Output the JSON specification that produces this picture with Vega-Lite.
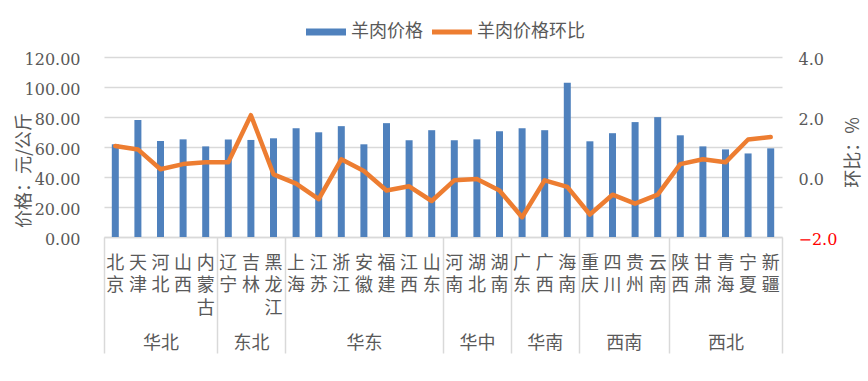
{
  "$schema": "https://vega.github.io/schema/vega-lite/v6.json",
  "width": 678,
  "height": 180,
  "autosize": {"type": "none"},
  "padding": {"left": 104, "top": 57, "right": 86, "bottom": 144},
  "background": "white",
  "config": {"view": {"stroke": null}, "font": "Noto Sans CJK SC"},
  "data": {"values": [
    {"province": "北京", "region": "华北", "price": 61.8, "mom": 1.03},
    {"province": "天津", "region": "华北", "price": 78.0, "mom": 0.92},
    {"province": "河北", "region": "华北", "price": 64.0, "mom": 0.26},
    {"province": "山西", "region": "华北", "price": 65.1, "mom": 0.43},
    {"province": "内蒙古", "region": "华北", "price": 60.4, "mom": 0.49},
    {"province": "辽宁", "region": "东北", "price": 65.0, "mom": 0.49},
    {"province": "吉林", "region": "东北", "price": 64.7, "mom": 2.06},
    {"province": "黑龙江", "region": "东北", "price": 65.8, "mom": 0.09},
    {"province": "上海", "region": "华东", "price": 72.5, "mom": -0.22},
    {"province": "江苏", "region": "华东", "price": 69.8, "mom": -0.74},
    {"province": "浙江", "region": "华东", "price": 73.9, "mom": 0.59},
    {"province": "安徽", "region": "华东", "price": 61.8, "mom": 0.2},
    {"province": "福建", "region": "华东", "price": 75.9, "mom": -0.45},
    {"province": "江西", "region": "华东", "price": 64.5, "mom": -0.31},
    {"province": "山东", "region": "华东", "price": 71.2, "mom": -0.8},
    {"province": "河南", "region": "华中", "price": 64.5, "mom": -0.11},
    {"province": "湖北", "region": "华中", "price": 65.1, "mom": -0.07},
    {"province": "湖南", "region": "华中", "price": 70.5, "mom": -0.45},
    {"province": "广东", "region": "华南", "price": 72.5, "mom": -1.34},
    {"province": "广西", "region": "华南", "price": 71.2, "mom": -0.11},
    {"province": "海南", "region": "华南", "price": 102.8, "mom": -0.33},
    {"province": "重庆", "region": "西南", "price": 63.8, "mom": -1.25},
    {"province": "四川", "region": "西南", "price": 69.2, "mom": -0.59},
    {"province": "贵州", "region": "西南", "price": 76.6, "mom": -0.89},
    {"province": "云南", "region": "西南", "price": 79.9, "mom": -0.59},
    {"province": "陕西", "region": "西北", "price": 67.8, "mom": 0.43},
    {"province": "甘肃", "region": "西北", "price": 60.4, "mom": 0.59},
    {"province": "青海", "region": "西北", "price": 58.4, "mom": 0.49},
    {"province": "宁夏", "region": "西北", "price": 55.7, "mom": 1.25},
    {"province": "新疆", "region": "西北", "price": 59.1, "mom": 1.33}
  ]},
  "layer": [
    {
      "mark": {"type": "bar", "size": 7},
      "encoding": {
        "x": {
          "field": "province", "type": "nominal", "sort": null,
          "scale": {"paddingInner": 0, "paddingOuter": 0},
          "axis": {
            "orient": "bottom", "title": null,
            "domain": true, "domainColor": "#D9D9D9", "domainWidth": 1.5,
            "ticks": false, "grid": false,
            "labelExpr": "split(datum.label, '')",
            "labelAngle": 0, "labelAlign": "center", "labelBaseline": "top",
            "labelFont": "Noto Sans CJK SC", "labelFontSize": 18, "labelColor": "#595959",
            "labelLineHeight": 22.5, "labelPadding": 17, "labelOverlap": false
          }
        },
        "y": {
          "field": "price", "type": "quantitative",
          "scale": {"domain": [0, 120]},
          "axis": {
            "orient": "left", "title": "价格：元/公斤",
            "values": [0, 20, 40, 60, 80, 100, 120], "format": ".2f",
            "domain": false, "ticks": false, "grid": true,
            "gridColor": "#D9D9D9", "gridWidth": 1.3,
            "labelFont": "DejaVu Serif", "labelFontSize": 16, "labelColor": "#595959",
            "labelPadding": 24, "labelOffset": 2,
            "titleFont": "Noto Sans CJK SC", "titleFontSize": 18, "titleFontWeight": "normal",
            "titleColor": "#595959", "titleAngle": 270, "titleX": -80, "titleY": 113,
            "titleAlign": "center", "titleBaseline": "middle"
          }
        },
        "color": {
          "datum": "羊肉价格", "type": "nominal",
          "scale": {"domain": ["羊肉价格", "羊肉价格环比"], "range": ["#4F81BD", "#ED7D31"]},
          "legend": {
            "orient": "none", "legendX": 202, "legendY": -45, "direction": "horizontal",
            "title": null, "symbolSize": 1600, "padding": 0, "offset": 0,
            "labelFont": "Noto Sans CJK SC", "labelFontSize": 18, "labelColor": "#595959",
            "labelOffset": 5, "columnPadding": 9,
            "encode": {"symbols": {"update": {
              "shape": {"signal": "datum.value === '羊肉价格' ? 'M-1,-0.18H1V0.18H-1Z' : 'M-1,-0.12H1V0.12H-1Z'"},
              "fill": {"signal": "datum.value === '羊肉价格' ? '#4F81BD' : '#ED7D31'"},
              "stroke": {"value": "transparent"},
              "strokeWidth": {"value": 0},
              "opacity": {"value": 1}
            }}}
          }
        }
      }
    },
    {
      "mark": {"type": "line", "strokeWidth": 4.5, "strokeCap": "round", "strokeJoin": "round"},
      "encoding": {
        "x": {
          "field": "province", "type": "nominal", "sort": null,
          "scale": {"paddingInner": 0, "paddingOuter": 0},
          "axis": {
            "orient": "bottom", "title": null, "domain": false, "grid": false,
            "ticks": true, "tickBand": "extent", "tickSize": 116, "tickWidth": 1.5,
            "tickColor": {"condition": {"test": "!datum.value || indexof(['内蒙古','黑龙江','山东','湖南','海南','云南','新疆'], datum.value) >= 0", "value": "#D9D9D9"}, "value": "transparent"},
            "labelExpr": "datum.value === '河北' ? '华北' : datum.value === '吉林' ? '东北' : datum.value === '安徽' ? '华东' : datum.value === '湖北' ? '华中' : datum.value === '广西' ? '华南' : datum.value === '四川' ? '西南' : datum.value === '青海' ? '西北' : ''",
            "labelOffset": {"condition": {"test": "datum.value === '四川'", "value": 11.3}, "value": 0},
            "labelAngle": 0, "labelAlign": "center", "labelBaseline": "middle",
            "labelFont": "Noto Sans CJK SC", "labelFontSize": 18, "labelColor": "#595959",
            "labelPadding": -10, "labelOverlap": false
          }
        },
        "y": {
          "field": "mom", "type": "quantitative",
          "scale": {"domain": [-2, 4]},
          "axis": {
            "orient": "right", "title": "环比：%",
            "values": [-2, 0, 2, 4], "format": ".1f",
            "domain": false, "ticks": false, "grid": false,
            "labelFont": "DejaVu Serif", "labelFontSize": 16,
            "labelColor": {"condition": {"test": "datum.value < 0", "value": "#FF0000"}, "value": "#595959"},
            "labelPadding": 16, "labelOffset": 2,
            "titleFont": "Noto Sans CJK SC", "titleFontSize": 18, "titleFontWeight": "normal",
            "titleColor": "#595959", "titleAngle": 270, "titleX": 71, "titleY": 95,
            "titleAlign": "center", "titleBaseline": "middle"
          }
        },
        "color": {"datum": "羊肉价格环比", "type": "nominal"}
      }
    }
  ],
  "resolve": {"scale": {"y": "independent"}, "axis": {"x": "independent"}}
}
